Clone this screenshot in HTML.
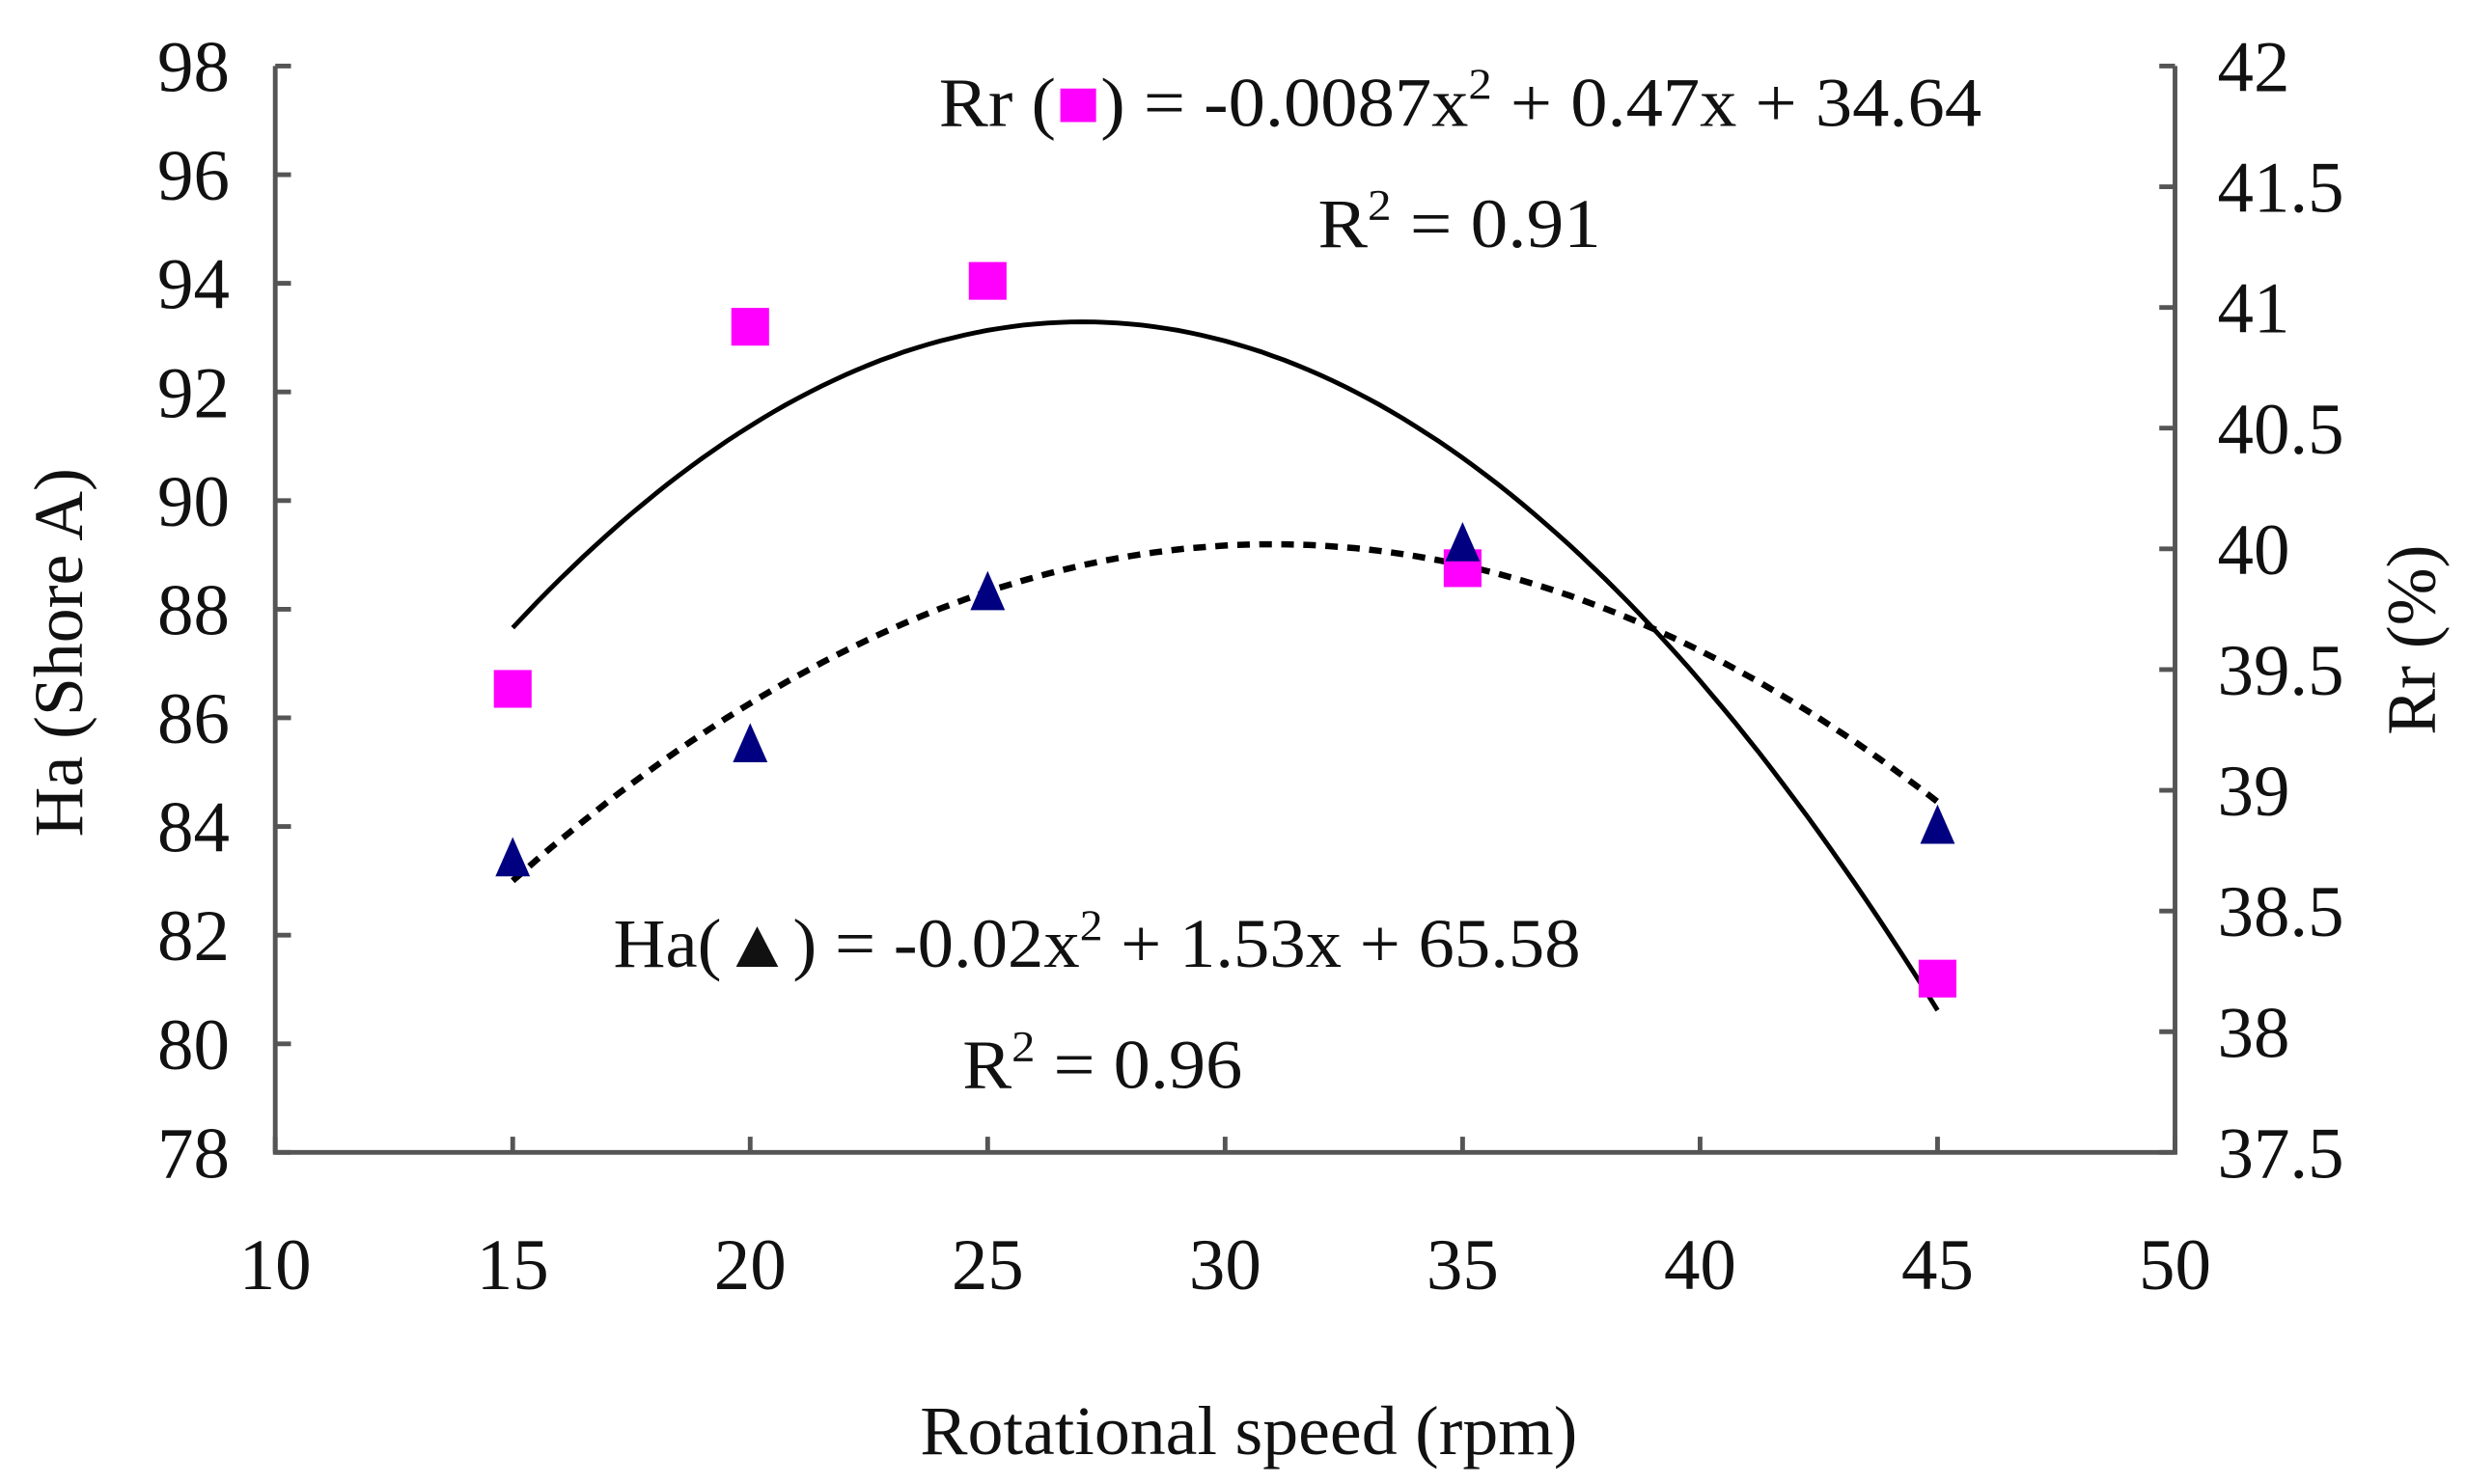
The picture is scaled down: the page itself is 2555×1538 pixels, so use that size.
<!DOCTYPE html>
<html><head><meta charset="utf-8"><style>
html,body{margin:0;padding:0;background:#fff}
svg{display:block}
text{font-family:"Liberation Serif",serif;fill:#111}
</style></head><body>
<svg id="chart" width="2555" height="1538" viewBox="0 0 1568 943.9" xmlns="http://www.w3.org/2000/svg">
<g id="axes"></g>
<g id="marks"></g>
<text x="597" y="80" font-size="44" textLength="663" lengthAdjust="spacingAndGlyphs">Rr (<tspan fill="#ff00ff">■</tspan>) = -0.0087x<tspan font-size="28" dy="-17">2</tspan><tspan dy="17"> + 0.47x + 34.64</tspan></text>
<text x="838" y="157" font-size="44" textLength="180" lengthAdjust="spacingAndGlyphs">R<tspan font-size="28" dy="-17">2</tspan><tspan dy="17"> = 0.91</tspan></text>
<text x="390" y="615" font-size="44" textLength="615" lengthAdjust="spacingAndGlyphs">Ha(▲) = -0.02x<tspan font-size="28" dy="-17">2</tspan><tspan dy="17"> + 1.53x + 65.58</tspan></text>
<text x="612" y="692" font-size="44" textLength="178" lengthAdjust="spacingAndGlyphs">R<tspan font-size="28" dy="-17">2</tspan><tspan dy="17"> = 0.96</tspan></text>
<text x="585" y="925" font-size="44" textLength="418" lengthAdjust="spacingAndGlyphs">Rotational speed (rpm)</text>
<text transform="translate(52,415) rotate(-90)" font-size="44" text-anchor="middle">Ha (Shore A)</text>
<text transform="translate(1548,407) rotate(-90)" font-size="44" text-anchor="middle">Rr (%)</text>
</svg>
<script>
const xTicks=[10,15,20,25,30,35,40,45,50];
const leftTicks=[78,80,82,84,86,88,90,92,94,96,98];
const rightTicks=[37.5,38,38.5,39,39.5,40,40.5,41,41.5,42];
const speeds=[15,20,25,35,45];
const haValues=[83.4,85.5,88.3,89.2,84.0];
const rrValues=[39.42,40.92,41.11,39.92,38.22];
const rrFit=[-0.0088,0.4752,34.525];
const haFit=[-0.0242,1.5004,65.94];
const X0=175,X1=1383,Y0=733,Y1=42;
function sx(v){return X0+(v-10)/(50-10)*(X1-X0);}
function syL(v){return Y0-(v-78)/(98-78)*(Y0-Y1);}
function syR(v){return Y0-(v-37.5)/(42-37.5)*(Y0-Y1);}
const NS='http://www.w3.org/2000/svg';
function mk(tag,attrs,parent){const e=document.createElementNS(NS,tag);for(const k in attrs)e.setAttribute(k,attrs[k]);parent.appendChild(e);return e;}
const axes=document.getElementById('axes'),marks=document.getElementById('marks');
const ac='#555';
let e;
e=mk('path',{d:`M${X0},${Y1} V${Y0} H${X1} V${Y1}`,fill:'none',stroke:ac,'stroke-width':3},axes);


leftTicks.forEach(v=>{const y=syL(v);
 e=mk('line',{x1:X0,x2:X0+10,y1:y,y2:y,stroke:ac,'stroke-width':3},axes);
 
 
 e=mk('text',{x:146,y:y+16,'font-size':46,'text-anchor':'end'},axes);e.textContent=v;
 
 
});
rightTicks.forEach(v=>{const y=syR(v);
 e=mk('line',{x1:X1-10,x2:X1,y1:y,y2:y,stroke:ac,'stroke-width':3},axes);
 
 
 e=mk('text',{x:1410,y:y+16,'font-size':46},axes);e.textContent=v;
 
 
});
xTicks.forEach(v=>{const x=sx(v);
 e=mk('line',{x1:x,x2:x,y1:Y0-10,y2:Y0,stroke:ac,'stroke-width':3},axes);
 
 
 e=mk('text',{x:x,y:820,'font-size':46,'text-anchor':'middle'},axes);e.textContent=v;
 
 
});
function curve(c,sy){let d='';for(let x=15;x<=45.001;x+=0.25){const v=c[0]*x*x+c[1]*x+c[2];d+=(d?'L':'M')+sx(x).toFixed(1)+','+sy(v).toFixed(1);}return d;}
e=mk('path',{d:curve(rrFit,syR),fill:'none',stroke:'#000','stroke-width':3},marks);


e=mk('path',{d:curve(haFit,syL),fill:'none',stroke:'#000','stroke-width':4,'stroke-dasharray':'8 6'},marks);


speeds.forEach((s,i)=>{const x=sx(s),y=syR(rrValues[i]);
 e=mk('rect',{x:x-12,y:y-12,width:24,height:24,fill:'#ff00ff'},marks);
 
 
});
speeds.forEach((s,i)=>{const x=sx(s),y=syL(haValues[i]);
 e=mk('polygon',{points:`${x},${y-14} ${x-11},${y+11} ${x+11},${y+11}`,fill:'#000080'},marks);
 
 
});
</script>
</body></html>
